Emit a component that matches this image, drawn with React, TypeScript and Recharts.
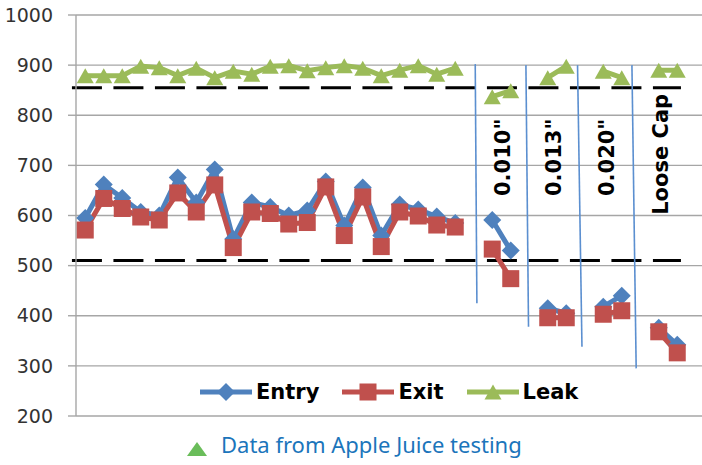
import React from 'react';
import {
  LineChart,
  Line,
  XAxis,
  YAxis,
  CartesianGrid,
  Legend,
  ReferenceLine,
  ReferenceDot
} from 'recharts';

// sample slots, the empty ones make the gaps between the groups
const categories = [
  '1', '2', '3', '4', '5', '6', '7', '8', '9', '10', '11', '12', '13', '14', '15', '16', '17',
  '18', '19', '20', '21', '22', '23', '24', '25', '26', '27', '28', '29', '30', '31', '32', '33', '34'
];

const entry = [
  595, 662, 635, 607, 600, 676, 626, 692, 553, 626, 617, 600, 610, 668, 580, 656, 560, 622, 612, 598, 585,
  null, 591, 530, null, 415, 405, null, 418, 440, null, 376, 342, null
];

const exit = [
  571, 634, 614, 597, 591, 645, 607, 661, 536, 607, 604, 583, 586, 657, 560, 637, 538, 607, 599, 581, 577,
  null, 533, 474, null, 396, 396, null, 403, 410, null, 368, 326, null
];

const leak = [
  879, 879, 879, 898, 895, 879, 894, 875, 888, 882, 898, 899, 889, 895, 899, 894, 879, 890, 899, 882, 894,
  null, 837, 849, null, 875, 898, null, 888, 875, null, 890, 890, null
];

const yTicks = [200, 300, 400, 500, 600, 700, 800, 900, 1000];

// dashed limit lines
const limits = [855, 510];

// hand drawn separators (slot position top/bottom, value top/bottom)
const separators = [
  { xTop: 21.08, xBottom: 21.17, yTop: 902, yBottom: 425 },
  { xTop: 23.82, xBottom: 23.96, yTop: 900, yBottom: 378 },
  { xTop: 26.61, xBottom: 26.85, yTop: 900, yBottom: 338 },
  { xTop: 29.55, xBottom: 29.78, yTop: 900, yBottom: 295 }
];

const gapLabels = [
  { text: '0.010"', x: 22.6, y: 716 },
  { text: '0.013"', x: 25.35, y: 716 },
  { text: '0.020"', x: 28.2, y: 716 },
  { text: 'Loose Cap', x: 31.1, y: 722 }
];

const BLUE = '#4F81BD';
const RED = '#C0504D';
const GREEN = '#9BBB59';

const data = categories.map((name, i) => ({
  x: i,
  name,
  entry: entry[i],
  exit: exit[i],
  leak: leak[i]
}));

const marker = (shape: string, cx: number, cy: number, key?: string) => {
  if (shape === 'diamond') {
    return (
      <polygon key={key} points={`${cx},${cy - 9} ${cx + 9},${cy} ${cx},${cy + 9} ${cx - 9},${cy}`} fill={BLUE} />
    );
  }
  if (shape === 'square') {
    return <rect key={key} x={cx - 8.5} y={cy - 8.5} width={17} height={17} fill={RED} />;
  }
  return (
    <polygon
      key={key}
      points={`${cx},${cy - 7.5} ${cx + 8.5},${cy + 7.5} ${cx - 8.5},${cy + 7.5}`}
      fill={GREEN}
    />
  );
};

const dotFor = (shape: string) => (p: any) => {
  const key = `${shape}-${p.index}`;
  if (p.cy == null || p.cx == null || p.value == null) return <g key={key} />;
  return marker(shape, p.cx, p.cy, key);
};

const legendItems = [
  { name: 'Entry', color: BLUE, shape: 'diamond' },
  { name: 'Exit', color: RED, shape: 'square' },
  { name: 'Leak', color: GREEN, shape: 'triangle' }
];

const renderLegend = () => (
  <div
    style={{
      display: 'flex',
      alignItems: 'center',
      fontFamily: 'DejaVu Sans',
      fontWeight: 700,
      fontSize: 21,
      color: '#000',
      background: '#fff'
    }}
  >
    {legendItems.map((it) => (
      <div key={it.name} style={{ display: 'flex', alignItems: 'center', marginRight: 22 }}>
        <svg width={54} height={20}>
          <line x1={1} y1={10} x2={53} y2={10} stroke={it.color} strokeWidth={5} />
          {marker(it.shape, 27, 10)}
        </svg>
        <span style={{ marginLeft: 3 }}>{it.name}</span>
      </div>
    ))}
  </div>
);

const rotatedLabel = (text: string) => (props: any) => {
  const vb = props.viewBox || {};
  const cx = (vb.x || 0) + (vb.width || 0) / 2;
  const cy = (vb.y || 0) + (vb.height || 0) / 2;
  return (
    <text
      x={cx}
      y={cy}
      transform={`rotate(-90, ${cx}, ${cy})`}
      textAnchor="middle"
      dominantBaseline="central"
      fontFamily="DejaVu Sans"
      fontWeight={700}
      fontSize={21}
      fill="#000"
    >
      {text}
    </text>
  );
};

export default function App() {
  return (
    <div style={{ position: 'absolute', left: 0, top: 0, width: 702, height: 465, overflow: 'hidden', background: '#fff' }}>
      <LineChart width={705} height={465} data={data} margin={{ top: 15, right: 0, bottom: 49, left: 0 }}>
        <CartesianGrid vertical={false} stroke="#A6A6A6" strokeWidth={1.4} />
        <XAxis dataKey="x" type="number" domain={[-0.5, 33.5]} allowDataOverflow hide />
        <YAxis
          domain={[200, 1000]}
          ticks={yTicks}
          width={76}
          tickSize={8}
          tickMargin={15}
          axisLine={{ stroke: '#A6A6A6', strokeWidth: 1.4 }}
          tickLine={{ stroke: '#A6A6A6', strokeWidth: 1.4 }}
          tick={{ fill: '#333', fontSize: 19, fontFamily: 'DejaVu Sans' }}
          interval={0}
        />
        {limits.map((v) => (
          <ReferenceLine
            key={`lim-${v}`}
            segment={[{ x: -0.72, y: v }, { x: 32.2, y: v }]}
            stroke="#000"
            strokeWidth={3}
            strokeDasharray="30 11.5"
            ifOverflow="visible"
          />
        ))}
        {separators.map((s, i) => (
          <ReferenceLine
            key={`sep-${i}`}
            segment={[{ x: s.xTop, y: s.yTop }, { x: s.xBottom, y: s.yBottom }]}
            stroke="#5B8FD0"
            strokeWidth={1.6}
            ifOverflow="visible"
          />
        ))}
        <Line
          dataKey="entry"
          name="Entry"
          stroke={BLUE}
          strokeWidth={5}
          dot={dotFor('diamond')}
          activeDot={false}
          connectNulls={false}
          isAnimationActive={false}
        />
        <Line
          dataKey="exit"
          name="Exit"
          stroke={RED}
          strokeWidth={5}
          dot={dotFor('square')}
          activeDot={false}
          connectNulls={false}
          isAnimationActive={false}
        />
        <Line
          dataKey="leak"
          name="Leak"
          stroke={GREEN}
          strokeWidth={5}
          dot={dotFor('triangle')}
          activeDot={false}
          connectNulls={false}
          isAnimationActive={false}
        />
        {gapLabels.map((g) => (
          <ReferenceDot
            key={g.text}
            x={g.x}
            y={g.y}
            r={0}
            fill="none"
            stroke="none"
            ifOverflow="visible"
            label={rotatedLabel(g.text)}
          />
        ))}
        <Legend
          layout="horizontal"
          verticalAlign="middle"
          align="center"
          content={renderLegend}
          wrapperStyle={{ left: 199, top: 380, width: 420, height: 24 }}
        />
      </LineChart>
      <svg width={20} height={14} style={{ position: 'absolute', left: 187, top: 442 }}>
        <polygon points="10,0 20,14 0,14" fill="#6ABD5A" />
      </svg>
      <div
        style={{
          position: 'absolute',
          left: 221,
          top: 429,
          fontFamily: 'Noto Sans',
          fontSize: 22,
          lineHeight: '30px',
          color: '#1B75BB',
          whiteSpace: 'nowrap'
        }}
      >
        Data from Apple Juice testing
      </div>
    </div>
  );
}
